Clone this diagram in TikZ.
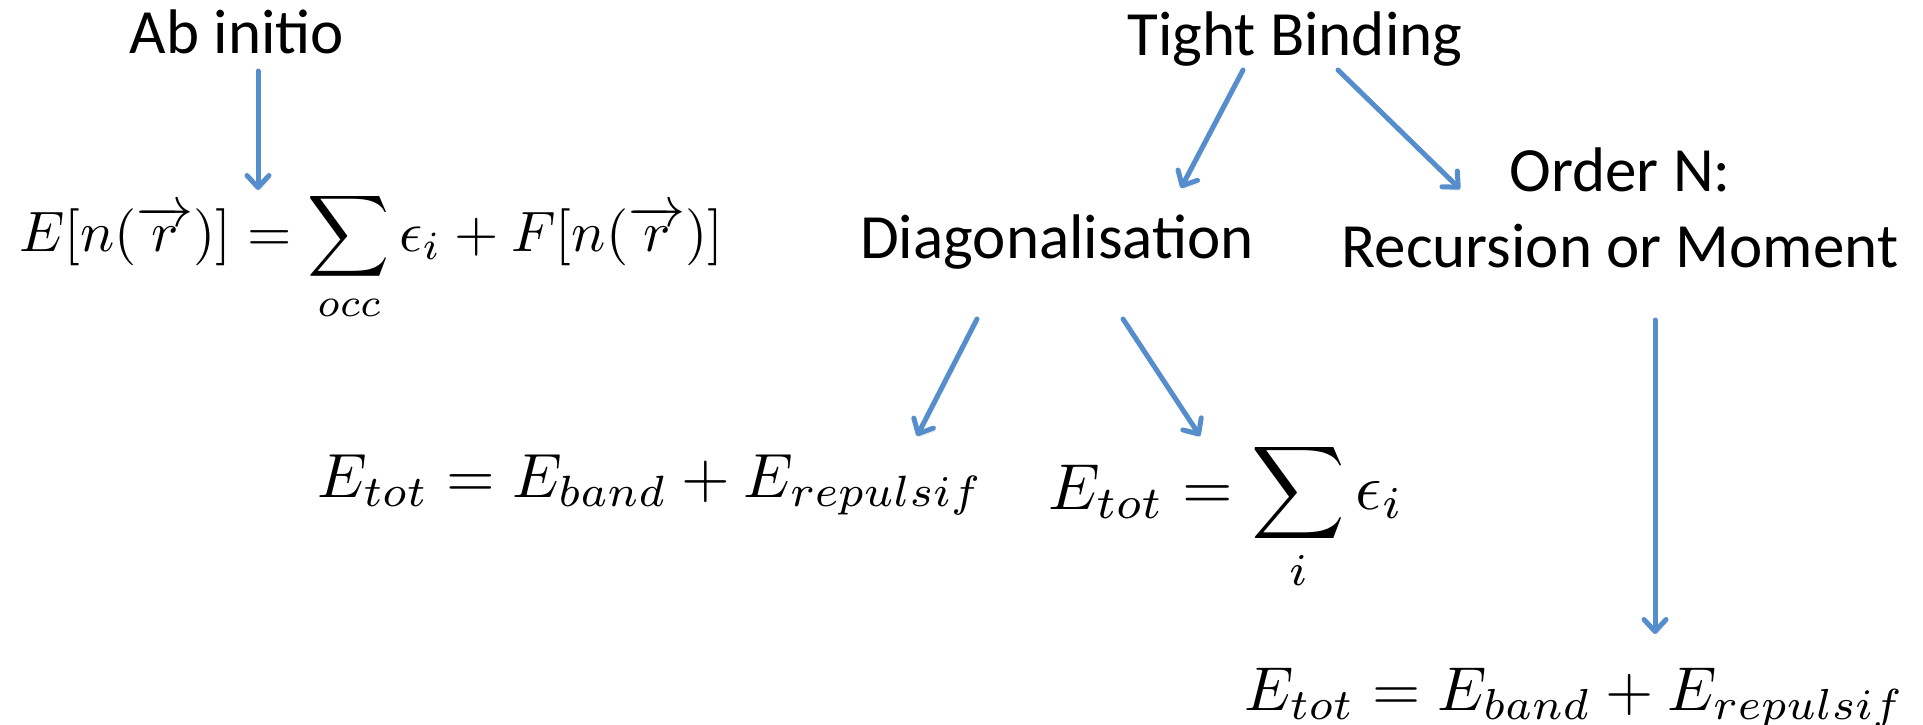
\documentclass[tikz,border=0pt]{standalone}
\usepackage{amsmath}
\usepackage{graphicx}
\usepackage{fontspec}
\setmainfont{Carlito}
\usetikzlibrary{arrows.meta}
\definecolor{arrowblue}{RGB}{86,141,204}
\tikzset{
  lbl/.style={inner sep=0pt, text=black, font=\fontsize{63}{76}\selectfont},
  eq/.style={inner sep=0pt, text=black},
  arr/.style={draw=arrowblue, line width=5pt, line cap=round,
    -{Straight Barb[length=12pt,width=22pt,round]},
    preaction={draw=black, draw opacity=0.12, transform canvas={shift={(1.5pt,-3pt)}}}}
}
\newcommand{\mathbig}[2]{\scalebox{#1}{$\displaystyle #2$}}
\begin{document}
\begin{tikzpicture}[x=1pt,y=1pt]
\useasboundingbox (0,0) rectangle (1923,-724);
% text labels
\node[lbl, anchor=base] (ab) at (237,-53) {Ab initio};
\node[lbl, anchor=base] (tb) at (1295,-55) {Tight Binding};
\node[lbl, anchor=base] (diag) at (1057,-258) {Diagonalisation};
\node[lbl, anchor=base] (ordn) at (1620,-191) {\renewcommand{\arraystretch}{1}\setlength{\tabcolsep}{0pt}\begin{tabular}[t]{c}Order N:\\Recursion or Moment\end{tabular}};
% equations
\node[eq, anchor=base west] (e1) at (19,-251) {\mathbig{5.7}{E[n(\overrightarrow{r})] = \sum_{occ}\epsilon_i + F[n(\overrightarrow{r})]}};
\node[eq, anchor=base west] (e2) at (317,-497) {\mathbig{6.25}{E_{tot} = E_{band} + E_{repulsif}}};
\node[eq, anchor=base west] (e3) at (1048,-509) {\mathbig{6.5}{E_{tot} = \sum_{i}\epsilon_i}};
\node[eq, anchor=base west] (e4) at (1244,-710) {\mathbig{6.2}{E_{tot} = E_{band} + E_{repulsif}}};
% arrows
\draw[arr] ([shift={(21,-18)}]ab.base) -- ([shift={(239,61)}]e1.base west);
\draw[arr] ([shift={(-52,-15)}]tb.base) -- ([shift={(124,70)}]diag.base);
\draw[arr] ([shift={(43,-15)}]tb.base) -- ([shift={(-160,2)}]ordn.base);
\draw[arr] ([shift={(-80,-61)}]diag.base) -- ([shift={(600,61)}]e2.base west);
\draw[arr] ([shift={(66,-61)}]diag.base) -- ([shift={(152,73)}]e3.base west);
\draw[arr] ([shift={(35,-129)}]ordn.base) -- ([shift={(411,76)}]e4.base west);
\end{tikzpicture}
\end{document}
